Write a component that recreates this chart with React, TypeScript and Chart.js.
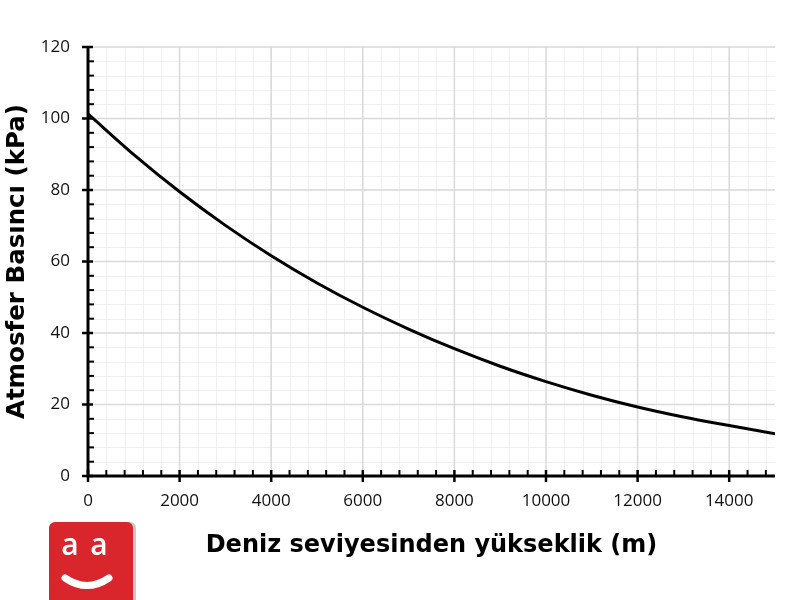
import React, { useEffect, useRef } from "react";
import { Chart, registerables } from "chart.js";

Chart.register(...registerables);

// Altitude above sea level (m) and atmospheric pressure (kPa)
const altitudes = [0, 1000, 2000, 3000, 4000, 5000, 6000, 7000, 8000, 9000, 10000, 11000, 12000, 13000, 14000, 15000];
const pressures = [101.3, 89.9, 79.5, 70.1, 61.6, 54.0, 47.2, 41.1, 35.6, 30.7, 26.4, 22.6, 19.3, 16.5, 14.1, 11.8];

// Tick labels
const xTickValues = [0, 2000, 4000, 6000, 8000, 10000, 12000, 14000];
const yTickValues = [0, 20, 40, 60, 80, 100, 120];

const xMin = 0;
const xMax = 15000;
const xMajorStep = 2000;
const xMinorStep = 400;
const yMin = 0;
const yMax = 120;
const yMajorStep = 20;
const yMinorStep = 4;

const xTitle = "Deniz seviyesinden yükseklik (m)";
const yTitle = "Atmosfer Basıncı (kPa)";

const gridPlugin = {
  id: "customGrid",
  beforeDatasetsDraw(chart: any) {
    const { ctx, chartArea, scales } = chart;
    const xs = scales.x;
    const ys = scales.y;
    ctx.save();
    ctx.strokeStyle = "#efefef";
    ctx.lineWidth = 1;
    for (let v = xMin + xMinorStep; v <= xMax; v += xMinorStep) {
      if (v % xMajorStep === 0) continue;
      const px = Math.round(xs.getPixelForValue(v)) + 0.5;
      ctx.beginPath();
      ctx.moveTo(px, chartArea.top);
      ctx.lineTo(px, chartArea.bottom);
      ctx.stroke();
    }
    for (let v = yMin + yMinorStep; v <= yMax; v += yMinorStep) {
      if (v % yMajorStep === 0) continue;
      const py = Math.round(ys.getPixelForValue(v)) + 0.5;
      ctx.beginPath();
      ctx.moveTo(chartArea.left, py);
      ctx.lineTo(chartArea.right, py);
      ctx.stroke();
    }
    ctx.strokeStyle = "#d9d9d9";
    ctx.lineWidth = 1.5;
    for (const v of xTickValues) {
      if (v === xMin) continue;
      const px = xs.getPixelForValue(v);
      ctx.beginPath();
      ctx.moveTo(px, chartArea.top);
      ctx.lineTo(px, chartArea.bottom);
      ctx.stroke();
    }
    for (const v of yTickValues) {
      if (v === yMin) continue;
      const py = ys.getPixelForValue(v);
      ctx.beginPath();
      ctx.moveTo(chartArea.left, py);
      ctx.lineTo(chartArea.right, py);
      ctx.stroke();
    }
    ctx.restore();
  },
  afterDatasetsDraw(chart: any) {
    const { ctx, chartArea, scales } = chart;
    const xs = scales.x;
    const ys = scales.y;
    const L = chartArea.left;
    const B = chartArea.bottom;
    ctx.save();
    ctx.strokeStyle = "#000";
    ctx.lineWidth = 2;
    for (let v = xMin + xMinorStep; v <= xMax; v += xMinorStep) {
      if (v % xMajorStep === 0) continue;
      const px = xs.getPixelForValue(v);
      ctx.beginPath();
      ctx.moveTo(px, B);
      ctx.lineTo(px, B - 6);
      ctx.stroke();
    }
    for (let v = yMin + yMinorStep; v <= yMax; v += yMinorStep) {
      if (v % yMajorStep === 0) continue;
      const py = ys.getPixelForValue(v);
      ctx.beginPath();
      ctx.moveTo(L, py);
      ctx.lineTo(L + 6, py);
      ctx.stroke();
    }
    ctx.lineWidth = 2.5;
    for (const v of xTickValues) {
      const px = xs.getPixelForValue(v);
      ctx.beginPath();
      ctx.moveTo(px, B - 6);
      ctx.lineTo(px, B + 6);
      ctx.stroke();
    }
    for (const v of yTickValues) {
      const py = ys.getPixelForValue(v);
      ctx.beginPath();
      ctx.moveTo(L - 6, py);
      ctx.lineTo(L + 5, py);
      ctx.stroke();
    }
    ctx.lineWidth = 3;
    ctx.beginPath();
    ctx.moveTo(L, chartArea.top);
    ctx.lineTo(L, B);
    ctx.lineTo(chartArea.right, B);
    ctx.stroke();
    ctx.restore();
  },
};

export default function App() {
  const canvasRef = useRef<HTMLCanvasElement | null>(null);

  useEffect(() => {
    document.body.style.margin = "0";
    const canvas = canvasRef.current;
    if (!canvas) return;
    const chart = new Chart(canvas, {
      type: "line",
      data: {
        datasets: [
          {
            data: altitudes.map((a, i) => ({ x: a, y: pressures[i] })),
            borderColor: "#000000",
            borderWidth: 3,
            pointRadius: 0,
            cubicInterpolationMode: "monotone",
            fill: false,
          },
        ],
      },
      options: {
        responsive: false,
        animation: false,
        devicePixelRatio: 1,
        layout: { padding: { left: 0, right: 25, top: 47, bottom: 0 } },
        plugins: { legend: { display: false }, tooltip: { enabled: false } },
        scales: {
          x: {
            type: "linear",
            min: xMin,
            max: xMax,
            border: { display: false },
            grid: { display: false, drawTicks: false },
            afterBuildTicks: (scale: any) => {
              scale.ticks = xTickValues.map((v) => ({ value: v }));
            },
            afterFit: (scale: any) => {
              scale.height = 124;
            },
            ticks: {
              padding: 15,
              color: "#111",
              font: { family: "'Open Sans'", size: 17 },
              maxRotation: 0,
              autoSkip: false,
              callback: (v: any) => String(v),
            },
            title: {
              display: true,
              text: xTitle,
              color: "#000",
              font: { family: "'DejaVu Sans'", size: 24, weight: "bold" },
              padding: { top: 0, bottom: 40 },
            },
          },
          y: {
            type: "linear",
            min: yMin,
            max: yMax,
            border: { display: false },
            grid: { display: false, drawTicks: false },
            afterBuildTicks: (scale: any) => {
              scale.ticks = yTickValues.map((v) => ({ value: v }));
            },
            afterFit: (scale: any) => {
              scale.width = 88;
            },
            ticks: {
              padding: 18,
              color: "#111",
              font: { family: "'Open Sans'", size: 17 },
              autoSkip: false,
              callback: (v: any) => String(v),
            },
            title: {
              display: true,
              text: yTitle,
              color: "#000",
              font: { family: "'DejaVu Sans'", size: 24.5, weight: "bold" },
              padding: { top: 3, bottom: 0 },
            },
          },
        },
      },
      plugins: [gridPlugin],
    } as any);
    return () => chart.destroy();
  }, []);

  return (
    <div style={{ position: "relative", width: 800, height: 600, overflow: "hidden", background: "#fff" }}>
      <canvas ref={canvasRef} width={800} height={600} style={{ display: "block" }} />
      <div
        style={{
          position: "absolute",
          left: 49,
          top: 522,
          width: 84,
          height: 90,
          background: "#d9262c",
          borderRadius: 6,
          boxShadow: "3px 0 0 #c8c8c8",
        }}
      >
        <svg width={84} height={90} viewBox="0 0 84 90" style={{ display: "block" }}>
          <text x={21} y={33} textAnchor="middle" fill="#fff" fontFamily="'Open Sans', sans-serif" fontWeight={600} fontSize={30}>
            a
          </text>
          <text x={50} y={33} textAnchor="middle" fill="#fff" fontFamily="'Open Sans', sans-serif" fontWeight={600} fontSize={30}>
            a
          </text>
          <path d="M 16 56 Q 38 71 60 56" stroke="#fff" strokeWidth={7} fill="none" strokeLinecap="round" />
        </svg>
      </div>
    </div>
  );
}
